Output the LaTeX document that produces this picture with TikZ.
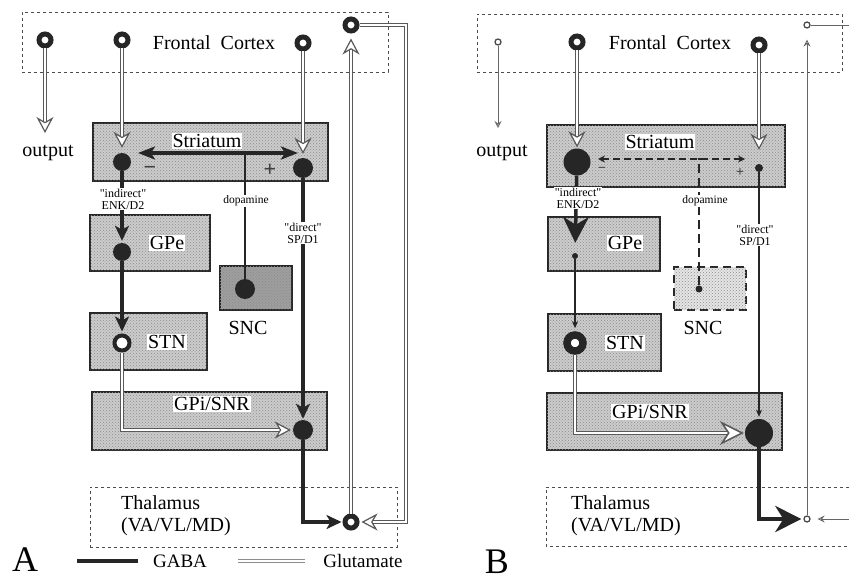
\documentclass[tikz,border=0pt]{standalone}
\usepackage{fontspec}
\setmainfont{Liberation Serif}
\usetikzlibrary{arrows.meta}
\usetikzlibrary{patterns}

\begin{document}
\begin{tikzpicture}[x=1pt, y=-1pt,
        % Boxes for the nuclei and the dashed regions
        nucleus/.style={draw=black!85, line width=1.6pt, fill=black!20, inner sep=0pt,
            postaction={pattern=crosshatch dots, pattern color=black!45}},
        region/.style={draw=black!70, dashed, line width=0.8pt, inner sep=0pt},
        % Text styles
        boxname/.style={font=\fontsize{20}{22}\selectfont, fill=white, inner sep=1pt},
        plaintext/.style={font=\fontsize{20}{22}\selectfont, inner sep=0pt},
        smalltext/.style={font=\fontsize{12}{12}\selectfont, align=center, fill=white, inner sep=0.5pt},
        % Neurons: filled (GABA) and rings (glutamate)
        cell/.style={circle, fill=black!85, inner sep=0pt, minimum size=#1},
        ring/.style={circle, draw=black!85, fill=white, inner sep=0pt, minimum size=12pt, line width=5pt},
        tinyring/.style={circle, draw=black!70, fill=white, inner sep=0pt, minimum size=6pt, line width=1.3pt},
        % Connections
        glu/.style={draw=black!65, double=white, double distance=2pt, line width=1pt},
        gaba/.style={draw=black!85, line width=3.2pt},
        thinline/.style={draw=black!60, line width=0.9pt},
        gopen/.style={-{Stealth[open, length=16pt, width=17pt, inset=5pt, fill=white, line width=1.2pt]}},
        gbig/.style={-{Stealth[open, length=24pt, width=24pt, inset=8pt, fill=white, line width=1.5pt]}},
        gfill/.style={-{Stealth[length=15pt, width=14pt, inset=4pt]}},
        bigfill/.style={-{Stealth[length=26pt, width=26pt, inset=8pt]}},
        sopen/.style={-{Stealth[open, length=7pt, width=7pt, inset=2.5pt, fill=white, line width=0.9pt]}},
        sfill/.style={-{Stealth[length=7pt, width=6pt, inset=2pt]}}
    ]
    \useasboundingbox (0,0) rectangle (849,586);

    % ===================== Panel A =====================
    % --- Frontal cortex ---
    \node[region, minimum width=366, minimum height=60] (a_ctx) at (205,42) {};
    \node[plaintext] (a_ctx_name) at (214,43) {Frontal\ \ Cortex};
    \node[ring] (a_ctx_out) at (45,40) {};
    \node[ring] (a_ctx_ind) at (122,40) {};
    \node[ring] (a_ctx_dir) at (303,43) {};
    \node[ring] (a_ctx_fb) at (351,25) {};

    % output of the cortex
    \coordinate (a_out_tip) at (45,133);
    \draw[glu, gopen] (a_ctx_out) -- (a_out_tip);
    \node[plaintext] (a_output) at (48,153) {output};

    % --- Nuclei ---
    \node[nucleus, minimum width=235, minimum height=58] (a_str) at (210.5,152) {};
    \node[nucleus, minimum width=120, minimum height=56] (a_gpe) at (150,243) {};
    \node[nucleus, minimum width=117, minimum height=57] (a_stn) at (148.5,341.5) {};
    \node[nucleus, fill=black!38, minimum width=72, minimum height=44] (a_snc) at (256,288) {};
    \node[nucleus, minimum width=235, minimum height=58] (a_gpi) at (209.5,421) {};
    \node[region, minimum width=307, minimum height=60] (a_thal) at (243.5,517) {};

    \node[boxname] (a_str_name) at (207,141) {Striatum};
    \node[boxname] (a_gpe_name) at (167,243) {GPe};
    \node[boxname] (a_stn_name) at (167,342) {STN};
    \node[plaintext] (a_snc_name) at (248,328) {SNC};
    \node[boxname] (a_gpi_name) at (212,404) {GPi/SNR};
    \node[plaintext, align=left, anchor=west] (a_thal_name) at (121,516) {Thalamus\\(VA/VL/MD)};

    % --- Neurons ---
    \node[cell=18pt] (a_str_l) at (122,162) {};
    \node[cell=20pt] (a_str_r) at (303,168) {};
    \node[cell=18pt] (a_gpe_c) at (122,252) {};
    \node[ring, minimum size=15pt, line width=4pt] (a_stn_c) at (122,343) {};
    \node[cell=20pt] (a_snc_c) at (245,289) {};
    \node[cell=20pt] (a_gpi_c) at (303,430) {};
    \node[ring] (a_thal_c) at (351,522) {};

    % --- Striatum: dopamine effect ---
    \coordinate (a_da_l) at (138,153);
    \coordinate (a_da_r) at (298,153);
    \coordinate (a_da_m) at (245,153);
    \draw[gaba, {Stealth[length=17pt, width=13pt, inset=4pt]}-{Stealth[length=17pt, width=13pt, inset=4pt]}] (a_da_l) -- (a_da_r);
    \draw[gaba, line width=2.5pt] (a_snc_c) -- (a_da_m);
    \node[smalltext, font=\fontsize{11.5}{11.5}\selectfont] (a_da_lbl) at (246,201) {dopamine};
    \node[plaintext, font=\fontsize{22}{22}\selectfont\bfseries, text=black!75] (a_minus) at (150,170) {−};
    \node[plaintext, font=\fontsize{22}{22}\selectfont\bfseries, text=black!75] (a_plus) at (270,170) {+};

    % --- Glutamate inputs ---
    \draw[glu, gopen, shorten >=5pt] (a_ctx_ind) -- (a_str_l);
    \draw[glu, gopen, shorten >=4pt] (a_ctx_dir) -- (a_str_r);
    \draw[glu, gopen, shorten >=2pt] (a_stn_c) |- (a_gpi_c);
    \draw[glu, gopen, shorten >=5pt] (a_thal_c) -- (a_ctx_fb);
    \coordinate (a_fb_turn) at (406,25);
    \draw[glu, gopen, shorten >=2pt] (a_ctx_fb) -- (a_fb_turn) |- (a_thal_c);

    % --- GABA pathways ---
    \draw[gaba, gfill, shorten >=2pt] (a_str_l) -- (a_gpe_c);
    \draw[gaba, gfill, shorten >=2pt] (a_gpe_c) -- (a_stn_c);
    \draw[gaba, gfill, shorten >=1pt] (a_str_r) -- (a_gpi_c);
    \draw[gaba, gfill, shorten >=1pt] (a_gpi_c) |- (a_thal_c);
    \node[smalltext] (a_ind_lbl) at (123,199) {\textquotedbl indirect\textquotedbl\\ENK/D2};
    \node[smalltext] (a_dir_lbl) at (303,233) {\textquotedbl direct\textquotedbl\\SP/D1};

    % --- Legend ---
    \node[plaintext, font=\fontsize{36}{36}\selectfont] (a_tag) at (25,560) {A};
    \coordinate (leg_gaba_l) at (77,561);
    \coordinate (leg_gaba_r) at (138,561);
    \draw[gaba, line width=3.5pt] (leg_gaba_l) -- (leg_gaba_r);
    \node[plaintext, font=\fontsize{19}{19}\selectfont] (leg_gaba) at (180,561) {GABA};
    \coordinate (leg_glu_l) at (238,561);
    \coordinate (leg_glu_r) at (305,561);
    \draw[glu, draw=black!45] (leg_glu_l) -- (leg_glu_r);
    \node[plaintext, font=\fontsize{19}{19}\selectfont] (leg_glu) at (363,561) {Glutamate};

    % ===================== Panel B =====================
    % --- Frontal cortex ---
    \node[region, minimum width=365, minimum height=58] (b_ctx) at (659.5,43) {};
    \node[plaintext] (b_ctx_name) at (670,43) {Frontal\ \ Cortex};
    \node[tinyring] (b_ctx_out) at (498,42) {};
    \node[ring] (b_ctx_ind) at (577,42) {};
    \node[ring] (b_ctx_dir) at (759,45) {};
    \node[tinyring] (b_ctx_fb) at (807,25) {};

    \coordinate (b_out_tip) at (498,128);
    \draw[thinline, sopen] (b_ctx_out) -- (b_out_tip);
    \node[plaintext] (b_output) at (502,153) {output};

    % --- Nuclei ---
    \node[nucleus, minimum width=238, minimum height=62] (b_str) at (666,156) {};
    \node[nucleus, minimum width=112, minimum height=54] (b_gpe) at (604,244) {};
    \node[nucleus, minimum width=113, minimum height=57] (b_stn) at (604.5,342.5) {};
    \node[nucleus, fill=black!10, line width=2pt, dash pattern=on 8pt off 5pt, minimum width=72, minimum height=43] (b_snc) at (710,288.5) {};
    \node[nucleus, minimum width=235, minimum height=57] (b_gpi) at (664.5,421.5) {};
    \draw[region] (849,487) -- (546,487) -- (546,546) -- (849,546);

    \node[boxname] (b_str_name) at (660,142) {Striatum};
    \node[boxname] (b_gpe_name) at (625,243) {GPe};
    \node[boxname] (b_stn_name) at (625,343) {STN};
    \node[plaintext] (b_snc_name) at (703,328) {SNC};
    \node[boxname] (b_gpi_name) at (650,412) {GPi/SNR};
    \node[plaintext, align=left, anchor=west] (b_thal_name) at (571,516) {Thalamus\\(VA/VL/MD)};

    % --- Neurons ---
    \node[cell=27pt] (b_str_l) at (577,162) {};
    \node[cell=8pt] (b_str_r) at (759,168) {};
    \node[cell=6pt] (b_gpe_c) at (575,256) {};
    \node[ring, minimum size=16pt, line width=7.5pt] (b_stn_c) at (575,343) {};
    \node[cell=7pt] (b_snc_c) at (699,289) {};
    \node[cell=28pt] (b_gpi_c) at (759,433) {};
    \node[tinyring] (b_thal_c) at (807,519) {};

    % --- Striatum: weakened dopamine effect ---
    \coordinate (b_da_l) at (598,159);
    \coordinate (b_da_r) at (745,159);
    \coordinate (b_da_m) at (699,159);
    \coordinate (b_da_stub) at (707,159);
    \draw[gaba, line width=1.5pt, dash pattern=on 7pt off 4pt, {Stealth[length=7pt, width=7pt]}-{Stealth[length=7pt, width=7pt]}] (b_da_l) -- (b_da_r);
    \draw[gaba, line width=1.5pt, dash pattern=on 9pt off 5pt] (b_snc_c) -- (b_da_m) -- (b_da_stub);
    \node[smalltext, font=\fontsize{11.5}{11.5}\selectfont] (b_da_lbl) at (705,201) {dopamine};
    \node[plaintext, font=\fontsize{14}{14}\selectfont\bfseries, text=black!75] (b_minus) at (602,170) {−};
    \node[plaintext, font=\fontsize{14}{14}\selectfont\bfseries, text=black!75] (b_plus) at (740,173) {+};

    % --- Glutamate inputs ---
    \draw[glu, gopen, shorten >=1pt] (b_ctx_ind) -- (b_str_l);
    \draw[glu, gopen, shorten >=14pt] (b_ctx_dir) -- (b_str_r);
    \draw[glu, gbig, shorten >=1pt] (b_stn_c) |- (b_gpi_c);
    \draw[thinline, sopen, shorten >=11pt] (b_thal_c) -- (b_ctx_fb);
    \coordinate (b_fb_out) at (849,25);
    \coordinate (b_fb_in) at (849,519);
    \draw[thinline] (b_ctx_fb) -- (b_fb_out);
    \draw[thinline, sopen, shorten >=7pt] (b_fb_in) -- (b_thal_c);

    % --- GABA pathways ---
    \draw[gaba, line width=3.5pt, bigfill, shorten >=10pt] (b_str_l) -- (b_gpe_c);
    \draw[gaba, line width=1.2pt, sfill, shorten >=3pt] (b_gpe_c) -- (b_stn_c);
    \draw[gaba, line width=1.2pt, sfill, shorten >=2pt] (b_str_r) -- (b_gpi_c);
    \draw[gaba, line width=4.5pt, bigfill, shorten >=2pt] (b_gpi_c) |- (b_thal_c);
    \node[smalltext] (b_ind_lbl) at (578,198) {\textquotedbl indirect\textquotedbl\\ENK/D2};
    \node[smalltext] (b_dir_lbl) at (755,235) {\textquotedbl direct\textquotedbl\\SP/D1};

    % --- Legend ---
    \node[plaintext, font=\fontsize{36}{36}\selectfont] (b_tag) at (497,562) {B};

\end{tikzpicture}
\end{document}
